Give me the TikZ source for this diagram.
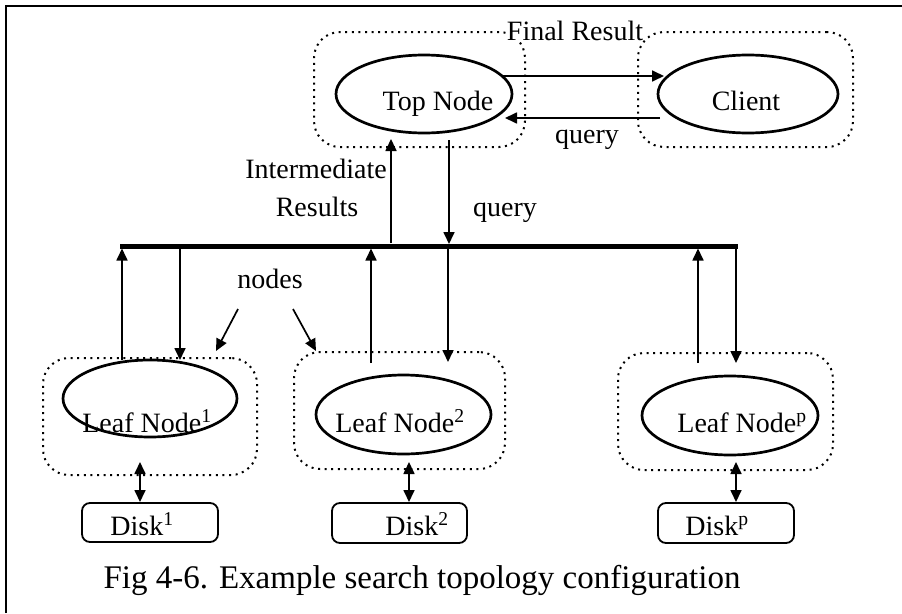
\documentclass[tikz,border=0pt]{standalone}
\usepackage{fontspec}
\setmainfont{Liberation Serif}
\usetikzlibrary{arrows.meta,shapes.geometric}
\begin{document}
\begin{tikzpicture}[x=1pt,y=-1pt,
  txt/.style={inner sep=0pt,anchor=base,font=\fontsize{28}{33}\selectfont},
  captxt/.style={inner sep=0pt,anchor=base,font=\fontsize{33}{38}\selectfont},
  dotbox/.style={draw,line width=2pt,dash pattern=on 2pt off 4.6pt,rounded corners=26pt,inner sep=0pt},
  ell/.style={draw,ellipse,line width=2.7pt,inner sep=0pt},
  diskbox/.style={draw,line width=1.8pt,rounded corners=8pt,inner sep=0pt},
  arr/.style={line width=1.7pt,-{Triangle[length=12pt,width=11pt]}},
  darr/.style={line width=1.7pt,{Triangle[length=12pt,width=11pt]}-{Triangle[length=12pt,width=11pt]}},
  bus/.style={line width=5pt}]
\useasboundingbox (0,0) rectangle (902,613);
\draw[line width=2pt] (6,613) -- (6,6) -- (902,6);

% top row
\node[dotbox,minimum width=211pt,minimum height=115pt] (topbox) at (419.5,89.5) {};
\node[dotbox,minimum width=215pt,minimum height=115pt] (clibox) at (745.5,89.5) {};
\node[ell,minimum width=176pt,minimum height=78pt] (topell) at (424,94) {};
\node[ell,minimum width=180pt,minimum height=78pt] (cliell) at (748,94) {};
\node[txt] (toptxt) at (438,110) {Top Node};
\node[txt] (clitxt) at (746,110) {Client};
\node[txt,fill=white,inner xsep=1pt] (final) at (575,40) {Final Result};
\node[txt] (q1) at (587,143) {query};

\coordinate (a1s) at (503,76);  \coordinate (a1e) at (664,76);
\coordinate (a2s) at (660,118); \coordinate (a2e) at (505,118);
\draw[arr] (a1s) -- (a1e);
\draw[arr] (a2s) -- (a2e);

% bus
\coordinate (busL) at (120,246);
\coordinate (busR) at (738,246);
\draw[bus] (busL) -- (busR);

\node[txt] (im1) at (316,178) {Intermediate};
\node[txt] (im2) at (317,216) {Results};
\node[txt] (q2) at (505,216) {query};

\coordinate (tu1) at (391,243); \coordinate (tu2) at (391,139);
\coordinate (td1) at (449,140); \coordinate (td2) at (449,244);
\draw[arr] (tu1) -- (tu2);
\draw[arr] (td1) -- (td2);

% leaves
\node[dotbox,minimum width=214pt,minimum height=117pt] (l1box) at (150,416.5) {};
\node[dotbox,minimum width=211pt,minimum height=117pt] (l2box) at (399.5,410.5) {};
\node[dotbox,minimum width=215pt,minimum height=117pt] (lpbox) at (725.5,411.5) {};
\node[ell,minimum width=174pt,minimum height=77pt] (l1ell) at (150,398.5) {};
\node[ell,minimum width=175pt,minimum height=79pt] (l2ell) at (403.5,414.5) {};
\node[ell,minimum width=176pt,minimum height=79pt] (lpell) at (730,415.5) {};
\node[txt] (l1txt) at (147,432) {Leaf Node\textsuperscript{1}};
\node[txt] (l2txt) at (400,432) {Leaf Node\textsuperscript{2}};
\node[txt] (lptxt) at (742,432) {Leaf Node\textsuperscript{p}};

\draw[arr] (122,360) -- (122,248.5);
\draw[arr] (180,248.5) -- (180,360);
\draw[arr] (371,363) -- (371,248.5);
\draw[arr] (448,248.5) -- (448,362);
\draw[arr] (698,363) -- (698,248.5);
\draw[arr] (736,248.5) -- (736,363);

\node[txt] (nodes) at (270,288) {nodes};
\coordinate (n1s) at (238,309); \coordinate (n1e) at (216,351);
\coordinate (n2s) at (293,309); \coordinate (n2e) at (316,351);
\draw[arr] (n1s) -- (n1e);
\draw[arr] (n2s) -- (n2e);

% disks
\node[diskbox,minimum width=136pt,minimum height=39pt] (d1) at (150,522.5) {};
\node[diskbox,minimum width=135pt,minimum height=40pt] (d2) at (399.5,523) {};
\node[diskbox,minimum width=136pt,minimum height=40pt] (dp) at (726,523) {};
\node[txt] (d1txt) at (142,535) {Disk\textsuperscript{1}};
\node[txt] (d2txt) at (417,535) {Disk\textsuperscript{2}};
\node[txt] (dptxt) at (717,535) {Disk\textsuperscript{p}};

\coordinate (k1a) at (140,462); \coordinate (k1b) at (140,502);
\coordinate (k2a) at (409,462); \coordinate (k2b) at (409,502);
\coordinate (kpa) at (736,462); \coordinate (kpb) at (736,502);
\draw[darr] (k1a) -- (k1b);
\draw[darr] (k2a) -- (k2b);
\draw[darr] (kpa) -- (kpb);

\node[captxt] (caption) at (422,588) {Fig 4-6. Example search topology configuration};
\end{tikzpicture}
\end{document}
